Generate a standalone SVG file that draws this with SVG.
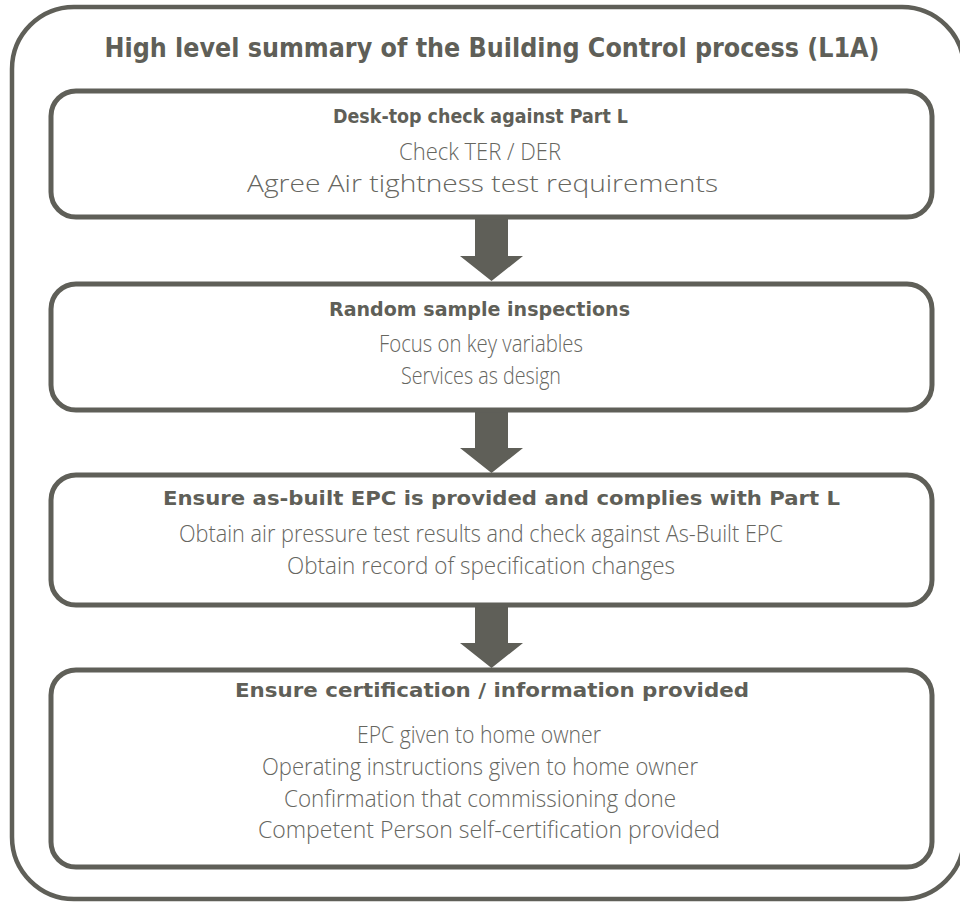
<svg xmlns="http://www.w3.org/2000/svg" width="960" height="903" viewBox="0 0 960 903">
<style>
.frame{fill:#fff;stroke:#5f5f58;stroke-width:4.5}
.box{fill:#fff;stroke:#5f5f58;stroke-width:5}
.arr{fill:#5f5f58;stroke:none}
.title{font-family:"DejaVu Sans Condensed","DejaVu Sans",sans-serif;font-weight:bold;font-size:26px;fill:#5f5f58;text-anchor:middle}
.head{font-family:"DejaVu Sans Condensed","DejaVu Sans",sans-serif;font-weight:bold;font-size:20px;fill:#5f5f58;text-anchor:middle}
.body{font-family:"Open Sans","Lato",sans-serif;font-weight:300;font-size:23px;fill:#66665f;text-anchor:middle}
</style>
<rect class="frame" x="12" y="7" width="952" height="892" rx="62" ry="62"/>
<text class="title" x="492" y="57" textLength="775" lengthAdjust="spacingAndGlyphs">High level summary of the Building Control process (L1A)</text>
<g id="connectors">
<polygon class="arr" points="475,217 508,217 508,256 523,256 491.5,281 460,256 475,256"/>
<polygon class="arr" points="475,410 508,410 508,448 523,448 491.5,473 460,448 475,448"/>
<polygon class="arr" points="475,605 508,605 508,643 523,643 491.5,668 460,643 475,643"/>
</g>
<g id="node1">
<rect class="box" x="51" y="91" width="881" height="126" rx="25" ry="25"/>
<text class="head" x="480.5" y="123" textLength="295" lengthAdjust="spacingAndGlyphs">Desk-top check against Part L</text>
<text class="body" x="480" y="160" textLength="162" lengthAdjust="spacingAndGlyphs">Check TER / DER</text>
<text class="body" x="482.5" y="192" textLength="471" lengthAdjust="spacingAndGlyphs">Agree Air tightness test requirements</text>
</g>
<g id="node2">
<rect class="box" x="51" y="284" width="881" height="126" rx="25" ry="25"/>
<text class="head" x="479.5" y="316" textLength="301" lengthAdjust="spacingAndGlyphs">Random sample inspections</text>
<text class="body" x="481" y="352" textLength="204" lengthAdjust="spacingAndGlyphs">Focus on key variables</text>
<text class="body" x="481" y="384" textLength="160" lengthAdjust="spacingAndGlyphs">Services as design</text>
</g>
<g id="node3">
<rect class="box" x="51" y="475" width="881" height="130" rx="25" ry="25"/>
<text class="head" x="501.5" y="505" textLength="677" lengthAdjust="spacingAndGlyphs">Ensure as-built EPC is provided and complies with Part L</text>
<text class="body" x="481" y="542" textLength="604" lengthAdjust="spacingAndGlyphs">Obtain air pressure test results and check against As-Built EPC</text>
<text class="body" x="481" y="574" textLength="388" lengthAdjust="spacingAndGlyphs">Obtain record of specification changes</text>
</g>
<g id="node4">
<rect class="box" x="51" y="670" width="881" height="197" rx="25" ry="25"/>
<text class="head" x="492" y="697" textLength="514" lengthAdjust="spacingAndGlyphs">Ensure certification / information provided</text>
<text class="body" x="479" y="743" textLength="244" lengthAdjust="spacingAndGlyphs">EPC given to home owner</text>
<text class="body" x="480" y="775" textLength="436" lengthAdjust="spacingAndGlyphs">Operating instructions given to home owner</text>
<text class="body" x="480" y="807" textLength="392" lengthAdjust="spacingAndGlyphs">Confirmation that commissioning done</text>
<text class="body" x="489" y="838" textLength="462" lengthAdjust="spacingAndGlyphs">Competent Person self-certification provided</text>
</g>
</svg>
